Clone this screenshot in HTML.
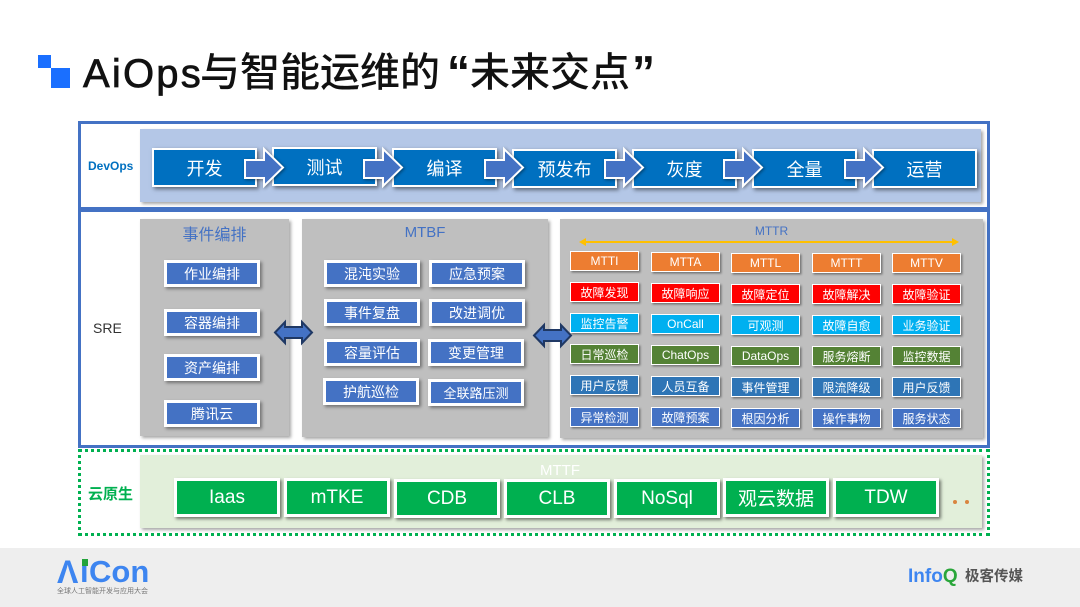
<!DOCTYPE html>
<html lang="zh">
<head>
<meta charset="utf-8">
<title>AiOps与智能运维的“未来交点”</title>
<style>
html,body{margin:0;padding:0;background:#fff}
#p{position:relative;width:1080px;height:607px;overflow:hidden;background:#fff;font-family:"Liberation Sans","Noto Sans CJK SC",sans-serif}
#p div,#p span.a{position:absolute;box-sizing:border-box}
.c{display:flex;align-items:center;justify-content:center;white-space:nowrap;color:#fff}
.t{white-space:nowrap;line-height:1}
.pn{box-shadow:2px 2px 3px rgba(0,0,0,.35)}
.st{width:105px;height:39px;background:#0070c0;border:2.5px solid #fff;font-size:18px;box-shadow:2px 2px 4px rgba(0,0,0,.5)}
.gb{height:39px;width:106px;background:#00b050;border:3px solid #fff;font-size:19px;box-shadow:2px 2px 3px rgba(0,0,0,.5)}
.bb{background:#4472c4;border:3px solid #fff;font-size:14px;width:96px;height:27px;box-shadow:2px 2px 3px rgba(0,0,0,.4)}
.m{width:69px;height:20px;border:1.5px solid #fff;font-size:12px;box-shadow:1.5px 1.5px 2px rgba(0,0,0,.4)}
.o{background:#ed7d31}.r{background:#f00}.y{background:#00b0f0}.g{background:#548235}.s{background:#2e75b6}.u{background:#4472c4}
.ti{font-size:40px;color:#111;font-weight:500}
svg{position:absolute;left:0;top:0}
</style>
</head>
<body>
<div id="p">
<!-- title -->
<div style="left:38px;top:55px;width:13px;height:13px;background:#1a6fff"></div>
<div style="left:51px;top:68px;width:19px;height:20px;background:#1a6fff"></div>
<div class="t ti" style="left:83px;top:52px;letter-spacing:2.2px;height:44px;line-height:44px;-webkit-text-stroke:.7px #111">AiOps</div>
<div class="t ti" style="left:200px;top:50px;height:46px;line-height:46px">与智能运维的</div>
<div class="t ti" style="left:447px;top:47px;font-size:46px;font-weight:bold;height:50px;line-height:50px;font-family:'Liberation Sans',sans-serif">“</div>
<div class="t ti" style="left:470px;top:50px;height:46px;line-height:46px">未来交点</div>
<div class="t ti" style="left:632px;top:47px;font-size:46px;font-weight:bold;height:50px;line-height:50px;font-family:'Liberation Sans',sans-serif">”</div>

<!-- frames -->
<div style="left:78px;top:121px;width:912px;height:89px;border:3px solid #4472c4"></div>
<div style="left:78px;top:209px;width:912px;height:239px;border:3px solid #4472c4"></div>
<div style="left:78px;top:449px;width:912px;height:87px;border:3px dotted #00b050"></div>

<!-- DevOps -->
<div class="t" style="left:88px;top:160px;font-size:12px;font-weight:bold;color:#0070c0">DevOps</div>
<div class="pn" style="left:140px;top:129px;width:841px;height:73px;background:#b4c7e7"></div>
<div class="c st" style="left:152px;top:148px">开发</div>
<div class="c st" style="left:272px;top:147px">测试</div>
<div class="c st" style="left:392px;top:148px">编译</div>
<div class="c st" style="left:512px;top:149px">预发布</div>
<div class="c st" style="left:632px;top:149px">灰度</div>
<div class="c st" style="left:752px;top:149px">全量</div>
<div class="c st" style="left:872px;top:149px">运营</div>

<!-- SRE -->
<div class="t" style="left:93px;top:321px;font-size:14px;color:#333">SRE</div>
<div class="pn" style="left:140px;top:219px;width:149px;height:217px;background:#bfbfbf"></div>
<div class="pn" style="left:302px;top:219px;width:246px;height:218px;background:#bfbfbf"></div>
<div class="pn" style="left:560px;top:219px;width:423px;height:219px;background:#bfbfbf"></div>
<div class="c" style="left:140px;top:222px;width:149px;height:22px;font-size:16px;color:#4472c4">事件编排</div>
<div class="c" style="left:302px;top:221px;width:246px;height:22px;font-size:15px;color:#4472c4">MTBF</div>
<div class="c" style="left:560px;top:222px;width:423px;height:18px;font-size:12px;color:#4472c4">MTTR</div>

<div class="c bb" style="left:164px;top:260px">作业编排</div>
<div class="c bb" style="left:164px;top:309px">容器编排</div>
<div class="c bb" style="left:164px;top:354px">资产编排</div>
<div class="c bb" style="left:164px;top:400px">腾讯云</div>

<div class="c bb" style="left:324px;top:260px">混沌实验</div>
<div class="c bb" style="left:429px;top:260px">应急预案</div>
<div class="c bb" style="left:324px;top:299px">事件复盘</div>
<div class="c bb" style="left:429px;top:299px">改进调优</div>
<div class="c bb" style="left:324px;top:339px">容量评估</div>
<div class="c bb" style="left:428px;top:339px">变更管理</div>
<div class="c bb" style="left:323px;top:378px">护航巡检</div>
<div class="c bb" style="left:428px;top:379px;font-size:13px">全联路压测</div>

<!-- MTTR grid -->
<div class="c m o" style="left:570px;top:251px">MTTI</div>
<div class="c m o" style="left:651px;top:252px">MTTA</div>
<div class="c m o" style="left:731px;top:253px">MTTL</div>
<div class="c m o" style="left:812px;top:253px">MTTT</div>
<div class="c m o" style="left:892px;top:253px">MTTV</div>
<div class="c m r" style="left:570px;top:282px">故障发现</div>
<div class="c m r" style="left:651px;top:283px">故障响应</div>
<div class="c m r" style="left:731px;top:284px">故障定位</div>
<div class="c m r" style="left:812px;top:284px">故障解决</div>
<div class="c m r" style="left:892px;top:284px">故障验证</div>
<div class="c m y" style="left:570px;top:313px">监控告警</div>
<div class="c m y" style="left:651px;top:314px">OnCall</div>
<div class="c m y" style="left:731px;top:315px">可观测</div>
<div class="c m y" style="left:812px;top:315px">故障自愈</div>
<div class="c m y" style="left:892px;top:315px">业务验证</div>
<div class="c m g" style="left:570px;top:344px">日常巡检</div>
<div class="c m g" style="left:651px;top:345px">ChatOps</div>
<div class="c m g" style="left:731px;top:346px">DataOps</div>
<div class="c m g" style="left:812px;top:346px">服务熔断</div>
<div class="c m g" style="left:892px;top:346px">监控数据</div>
<div class="c m s" style="left:570px;top:375px">用户反馈</div>
<div class="c m s" style="left:651px;top:376px">人员互备</div>
<div class="c m s" style="left:731px;top:377px">事件管理</div>
<div class="c m s" style="left:812px;top:377px">限流降级</div>
<div class="c m s" style="left:892px;top:377px">用户反馈</div>
<div class="c m u" style="left:570px;top:407px">异常检测</div>
<div class="c m u" style="left:651px;top:407px">故障预案</div>
<div class="c m u" style="left:731px;top:408px">根因分析</div>
<div class="c m u" style="left:812px;top:408px">操作事物</div>
<div class="c m u" style="left:892px;top:408px">服务状态</div>

<!-- cloud native -->
<div class="t" style="left:88px;top:487px;font-size:15px;font-weight:bold;color:#00b050">云原生</div>
<div class="pn" style="left:140px;top:455px;width:842px;height:73px;background:#e2efda"></div>
<div class="c" style="left:480px;top:461px;width:160px;height:18px;font-size:15px;color:#fff">MTTF</div>
<div class="c gb" style="left:174px;top:478px">Iaas</div>
<div class="c gb" style="left:284px;top:478px">mTKE</div>
<div class="c gb" style="left:394px;top:479px">CDB</div>
<div class="c gb" style="left:504px;top:479px">CLB</div>
<div class="c gb" style="left:614px;top:479px">NoSql</div>
<div class="c gb" style="left:723px;top:478px">观云数据</div>
<div class="c gb" style="left:833px;top:478px">TDW</div>
<div style="left:953px;top:500px;width:4px;height:4px;border-radius:50%;background:#d9853f"></div>
<div style="left:965px;top:500px;width:4px;height:4px;border-radius:50%;background:#d9853f"></div>

<!-- arrows -->
<svg width="1080" height="607" viewBox="0 0 1080 607" style="filter:drop-shadow(1.5px 1.5px 1.5px rgba(0,0,0,.45))">
<g fill="#4472c4" stroke="#fff" stroke-width="2">
<polygon points="245,160 264,160 264,149 283,167.5 264,186 264,178 245,178"/>
<polygon points="364,160 383,160 383,149 402,167.5 383,186 383,178 364,178"/>
<polygon points="485,160 504,160 504,149 523,167.5 504,186 504,178 485,178"/>
<polygon points="605,160 624,160 624,149 643,167.5 624,186 624,178 605,178"/>
<polygon points="724,160 743,160 743,149 762,167.5 743,186 743,178 724,178"/>
<polygon points="845,160 864,160 864,149 883,167.5 864,186 864,178 845,178"/>
</g>
</svg>
<svg width="1080" height="607" viewBox="0 0 1080 607">
<g fill="#4472c4" stroke="#1f3864" stroke-width="2">
<polygon points="275,332.5 285,322 285,327 302,327 302,322 312,332.5 302,343 302,338 285,338 285,343"/>
<polygon points="534,335.5 544,325 544,330 561,330 561,325 571,335.5 561,346 561,341 544,341 544,346"/>
</g>
<line x1="584" y1="242" x2="954" y2="242" stroke="#ffc000" stroke-width="2"/>
<polygon points="579,242 586,238 586,246" fill="#ffc000"/>
<polygon points="959,242 952,238 952,246" fill="#ffc000"/>
</svg>

<!-- footer -->
<div style="left:0;top:548px;width:1080px;height:59px;background:#eeeeee"></div>
<div class="t" style="left:57px;top:556px;font-size:32px;font-weight:bold;color:#3d85f0;height:32px;line-height:32px">Λ</div>
<div class="t" style="left:80px;top:556px;font-size:31px;font-weight:bold;color:#3d85f0;height:32px;line-height:32px">i</div>
<div class="t" style="left:89px;top:556px;font-size:31px;font-weight:bold;color:#3d85f0;height:32px;line-height:32px">Con</div>
<div style="left:82px;top:559px;width:6px;height:7px;background:#22a33a"></div>
<div class="t" style="left:57px;top:588px;font-size:7px;color:#777">全球人工智能开发与应用大会</div>
<div class="t" style="left:908px;top:567px;font-size:19px;font-weight:bold;color:#3d85f0;height:20px;line-height:20px">Info<span style="color:#2aa63a">Q</span></div>
<div class="t" style="left:965px;top:569px;font-size:14.5px;font-weight:bold;color:#555;height:17px;line-height:17px">极客传媒</div>
</div>
</body>
</html>
